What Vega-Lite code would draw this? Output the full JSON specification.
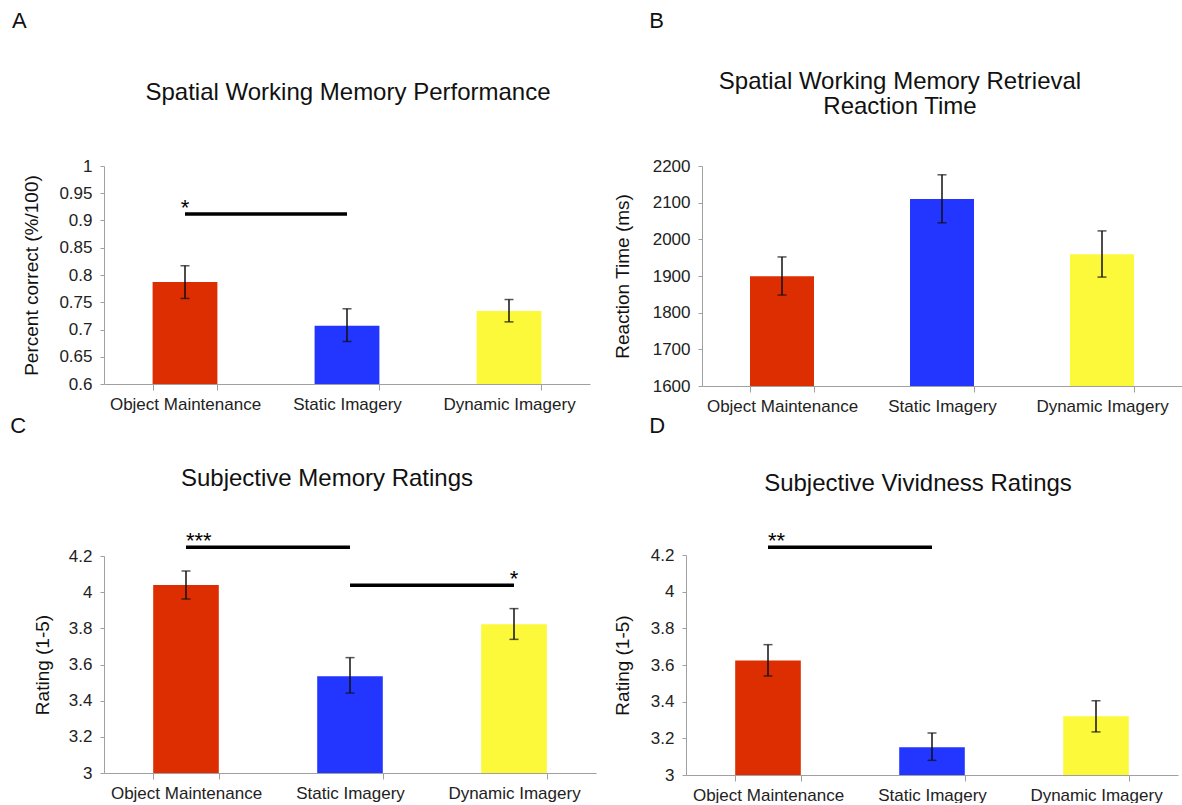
{
  "$schema": "https://vega.github.io/schema/vega-lite/v6.json",
  "padding": {"left": 10, "top": 10, "right": 0, "bottom": 0},
  "background": "white",
  "datasets": {
    "A": [
      {"cond": "Object Maintenance", "mean": 0.787, "lo": 0.757, "hi": 0.817},
      {"cond": "Static Imagery", "mean": 0.707, "lo": 0.678, "hi": 0.738},
      {"cond": "Dynamic Imagery", "mean": 0.734, "lo": 0.714, "hi": 0.755}
    ],
    "sigA": [
      {"from": "Object Maintenance", "to": "Static Imagery", "y": 0.912, "label": "*"}
    ],
    "B": [
      {"cond": "Object Maintenance", "mean": 1899, "lo": 1848, "hi": 1952},
      {"cond": "Static Imagery", "mean": 2110, "lo": 2045, "hi": 2176},
      {"cond": "Dynamic Imagery", "mean": 1959, "lo": 1897, "hi": 2023}
    ],
    "C": [
      {"cond": "Object Maintenance", "mean": 4.04, "lo": 3.962, "hi": 4.117},
      {"cond": "Static Imagery", "mean": 3.535, "lo": 3.442, "hi": 3.638},
      {"cond": "Dynamic Imagery", "mean": 3.822, "lo": 3.739, "hi": 3.909}
    ],
    "sigC": [
      {"from": "Object Maintenance", "to": "Static Imagery", "y": 4.248, "label": "***"},
      {"from": "Static Imagery", "to": "Dynamic Imagery", "y": 4.038, "label": "*"}
    ],
    "D": [
      {"cond": "Object Maintenance", "mean": 3.625, "lo": 3.54, "hi": 3.711},
      {"cond": "Static Imagery", "mean": 3.151, "lo": 3.08, "hi": 3.229},
      {"cond": "Dynamic Imagery", "mean": 3.32, "lo": 3.235, "hi": 3.405}
    ],
    "sigD": [
      {"from": "Object Maintenance", "to": "Static Imagery", "y": 4.242, "label": "**"}
    ]
  },
  "config": {
    "font": "Liberation Sans",
    "view": {"stroke": null},
    "axis": {
      "domainColor": "#a0a0a0",
      "tickColor": "#a0a0a0",
      "labelColor": "#222222",
      "labelFontSize": 17,
      "labelFont": "Liberation Sans",
      "titleFont": "Liberation Sans",
      "titleFontSize": 19,
      "titleFontWeight": "normal",
      "titleColor": "#111111",
      "grid": false,
      "labelOverlap": false
    },
    "axisY": {"tickSize": 4, "labelPadding": 8, "titlePadding": 12},
    "axisX": {"tickSize": 6, "labelPadding": 6, "labelAngle": 0},
    "title": {"font": "Liberation Sans", "fontSize": 24, "fontWeight": "normal", "color": "#111111", "baseline": "bottom"}
  },
  "columns": 2,
  "align": "none",
  "spacing": {"row": 1, "column": 17},
  "concat": [
    {
      "title": {"text": "A", "anchor": "start", "fontSize": 22, "offset": 48, "dx": -11},
      "vconcat": [
        {
          "width": 486,
          "height": 218,
          "title": {"text": "Spatial Working Memory Performance", "frame": "group", "dx": 1, "offset": 52},
          "data": {"name": "A"},
          "encoding": {
            "x": {"field": "cond", "type": "nominal", "sort": null, "title": null,
                  "scale": {"domain": ["Object Maintenance", "Static Imagery", "Dynamic Imagery"], "paddingInner": 0.6, "paddingOuter": 0.3},
                  "axis": {"tickBand": "extent"}}
          },
          "layer": [
            {
              "mark": {"type": "bar"},
              "encoding": {
                "y": {"field": "mean", "type": "quantitative", "title": "Percent correct (%/100)",
                      "scale": {"domain": [0.6, 1], "nice": false, "zero": false},
                      "axis": {"values": [0.6, 0.65, 0.7, 0.75, 0.8, 0.85, 0.9, 0.95, 1], "format": "~g", "titlePadding": 17}},
                "y2": {"datum": 0.6},
                "color": {"field": "cond", "type": "nominal", "legend": null,
                          "scale": {"domain": ["Object Maintenance", "Static Imagery", "Dynamic Imagery"], "range": ["#dc2e00", "#2236ff", "#fcf93a"]}}
              }
            },
            {
              "mark": {"type": "errorbar", "color": "#111111", "thickness": 1.5, "ticks": {"size": 9}},
              "encoding": {
                "y": {"field": "lo", "type": "quantitative", "title": "Percent correct (%/100)",
                      "axis": {"values": [0.6, 0.65, 0.7, 0.75, 0.8, 0.85, 0.9, 0.95, 1], "format": "~g", "titlePadding": 17}},
                "y2": {"field": "hi"}
              }
            },
            {
              "data": {"name": "sigA"},
              "mark": {"type": "rule", "color": "black", "strokeWidth": 3.5},
              "encoding": {
                "x": {"field": "from", "type": "nominal", "sort": null, "title": null},
                "x2": {"field": "to"},
                "y": {"field": "y", "type": "quantitative", "title": "Percent correct (%/100)",
                      "axis": {"values": [0.6, 0.65, 0.7, 0.75, 0.8, 0.85, 0.9, 0.95, 1], "format": "~g", "titlePadding": 17}}
              }
            },
            {
              "data": {"name": "sigA"},
              "mark": {"type": "text", "fontSize": 22, "dy": 1, "align": "center", "baseline": "alphabetic", "color": "black"},
              "encoding": {
                "x": {"field": "from", "type": "nominal", "sort": null, "title": null},
                "y": {"field": "y", "type": "quantitative", "title": "Percent correct (%/100)",
                      "axis": {"values": [0.6, 0.65, 0.7, 0.75, 0.8, 0.85, 0.9, 0.95, 1], "format": "~g", "titlePadding": 17}},
                "text": {"field": "label"}
              }
            }
          ]
        }
      ]
    },
    {
      "title": {"text": "B", "anchor": "start", "fontSize": 22, "offset": 37, "dx": 36},
      "vconcat": [
        {
          "width": 480,
          "height": 220,
          "title": {"text": ["Spatial Working Memory Retrieval", "Reaction Time"], "lineHeight": 25, "frame": "group", "dx": -42, "offset": 38},
          "data": {"name": "B"},
          "encoding": {
            "x": {"field": "cond", "type": "nominal", "sort": null, "title": null,
                  "scale": {"domain": ["Object Maintenance", "Static Imagery", "Dynamic Imagery"], "paddingInner": 0.6, "paddingOuter": 0.3},
                  "axis": {"tickBand": "extent"}}
          },
          "layer": [
            {
              "mark": {"type": "bar"},
              "encoding": {
                "y": {"field": "mean", "type": "quantitative", "title": "Reaction Time (ms)",
                      "scale": {"domain": [1600, 2200], "nice": false, "zero": false},
                      "axis": {"values": [1600, 1700, 1800, 1900, 2000, 2100, 2200], "format": "d", "titlePadding": 20}},
                "y2": {"datum": 1600},
                "color": {"field": "cond", "type": "nominal", "legend": null,
                          "scale": {"domain": ["Object Maintenance", "Static Imagery", "Dynamic Imagery"], "range": ["#dc2e00", "#2236ff", "#fcf93a"]}}
              }
            },
            {
              "mark": {"type": "errorbar", "color": "#111111", "thickness": 1.5, "ticks": {"size": 9}},
              "encoding": {
                "y": {"field": "lo", "type": "quantitative", "title": "Reaction Time (ms)",
                      "axis": {"values": [1600, 1700, 1800, 1900, 2000, 2100, 2200], "format": "d", "titlePadding": 20}},
                "y2": {"field": "hi"}
              }
            }
          ]
        }
      ]
    },
    {
      "title": {"text": "C", "anchor": "start", "fontSize": 22, "offset": 29, "dx": -23},
      "vconcat": [
        {
          "width": 492,
          "height": 217,
          "title": {"text": "Subjective Memory Ratings", "frame": "group", "dx": -23, "offset": 39},
          "data": {"name": "C"},
          "encoding": {
            "x": {"field": "cond", "type": "nominal", "sort": null, "title": null,
                  "scale": {"domain": ["Object Maintenance", "Static Imagery", "Dynamic Imagery"], "paddingInner": 0.6, "paddingOuter": 0.3},
                  "axis": {"tickBand": "extent"}}
          },
          "layer": [
            {
              "mark": {"type": "bar"},
              "encoding": {
                "y": {"field": "mean", "type": "quantitative", "title": "Rating (1-5)",
                      "scale": {"domain": [3, 4.2], "nice": false, "zero": false},
                      "axis": {"values": [3, 3.2, 3.4, 3.6, 3.8, 4, 4.2], "format": "~g", "titlePadding": 16}},
                "y2": {"datum": 3},
                "color": {"field": "cond", "type": "nominal", "legend": null,
                          "scale": {"domain": ["Object Maintenance", "Static Imagery", "Dynamic Imagery"], "range": ["#dc2e00", "#2236ff", "#fcf93a"]}}
              }
            },
            {
              "mark": {"type": "errorbar", "color": "#111111", "thickness": 1.5, "ticks": {"size": 9}},
              "encoding": {
                "y": {"field": "lo", "type": "quantitative", "title": "Rating (1-5)",
                      "axis": {"values": [3, 3.2, 3.4, 3.6, 3.8, 4, 4.2], "format": "~g", "titlePadding": 16}},
                "y2": {"field": "hi"}
              }
            },
            {
              "data": {"name": "sigC"},
              "mark": {"type": "rule", "color": "black", "strokeWidth": 3.5},
              "encoding": {
                "x": {"field": "from", "type": "nominal", "sort": null, "title": null},
                "x2": {"field": "to"},
                "y": {"field": "y", "type": "quantitative", "title": "Rating (1-5)",
                      "axis": {"values": [3, 3.2, 3.4, 3.6, 3.8, 4, 4.2], "format": "~g", "titlePadding": 16}}
              }
            },
            {
              "data": {"name": "sigC"},
              "transform": [{"filter": "datum.label === '***'"}],
              "mark": {"type": "text", "fontSize": 22, "dy": 1, "align": "left", "baseline": "alphabetic", "color": "black"},
              "encoding": {
                "x": {"field": "from", "type": "nominal", "sort": null, "title": null},
                "y": {"field": "y", "type": "quantitative", "title": "Rating (1-5)",
                      "axis": {"values": [3, 3.2, 3.4, 3.6, 3.8, 4, 4.2], "format": "~g", "titlePadding": 16}},
                "text": {"field": "label"}
              }
            },
            {
              "data": {"name": "sigC"},
              "transform": [{"filter": "datum.label === '*'"}],
              "mark": {"type": "text", "fontSize": 22, "dy": 1, "align": "center", "baseline": "alphabetic", "color": "black"},
              "encoding": {
                "x": {"field": "to", "type": "nominal", "sort": null, "title": null},
                "y": {"field": "y", "type": "quantitative", "title": "Rating (1-5)",
                      "axis": {"values": [3, 3.2, 3.4, 3.6, 3.8, 4, 4.2], "format": "~g", "titlePadding": 16}},
                "text": {"field": "label"}
              }
            }
          ]
        }
      ]
    },
    {
      "title": {"text": "D", "anchor": "start", "fontSize": 22, "offset": 34, "dx": 36},
      "vconcat": [
        {
          "width": 492,
          "height": 220,
          "title": {"text": "Subjective Vividness Ratings", "frame": "group", "dx": -14, "offset": 34},
          "data": {"name": "D"},
          "encoding": {
            "x": {"field": "cond", "type": "nominal", "sort": null, "title": null,
                  "scale": {"domain": ["Object Maintenance", "Static Imagery", "Dynamic Imagery"], "paddingInner": 0.6, "paddingOuter": 0.3},
                  "axis": {"tickBand": "extent"}}
          },
          "layer": [
            {
              "mark": {"type": "bar"},
              "encoding": {
                "y": {"field": "mean", "type": "quantitative", "title": "Rating (1-5)",
                      "scale": {"domain": [3, 4.2], "nice": false, "zero": false},
                      "axis": {"values": [3, 3.2, 3.4, 3.6, 3.8, 4, 4.2], "format": "~g", "titlePadding": 18}},
                "y2": {"datum": 3},
                "color": {"field": "cond", "type": "nominal", "legend": null,
                          "scale": {"domain": ["Object Maintenance", "Static Imagery", "Dynamic Imagery"], "range": ["#dc2e00", "#2236ff", "#fcf93a"]}}
              }
            },
            {
              "mark": {"type": "errorbar", "color": "#111111", "thickness": 1.5, "ticks": {"size": 9}},
              "encoding": {
                "y": {"field": "lo", "type": "quantitative", "title": "Rating (1-5)",
                      "axis": {"values": [3, 3.2, 3.4, 3.6, 3.8, 4, 4.2], "format": "~g", "titlePadding": 18}},
                "y2": {"field": "hi"}
              }
            },
            {
              "data": {"name": "sigD"},
              "mark": {"type": "rule", "color": "black", "strokeWidth": 3.5},
              "encoding": {
                "x": {"field": "from", "type": "nominal", "sort": null, "title": null},
                "x2": {"field": "to"},
                "y": {"field": "y", "type": "quantitative", "title": "Rating (1-5)",
                      "axis": {"values": [3, 3.2, 3.4, 3.6, 3.8, 4, 4.2], "format": "~g", "titlePadding": 18}}
              }
            },
            {
              "data": {"name": "sigD"},
              "mark": {"type": "text", "fontSize": 22, "dy": 1, "align": "left", "baseline": "alphabetic", "color": "black"},
              "encoding": {
                "x": {"field": "from", "type": "nominal", "sort": null, "title": null},
                "y": {"field": "y", "type": "quantitative", "title": "Rating (1-5)",
                      "axis": {"values": [3, 3.2, 3.4, 3.6, 3.8, 4, 4.2], "format": "~g", "titlePadding": 18}},
                "text": {"field": "label"}
              }
            }
          ]
        }
      ]
    }
  ]
}
